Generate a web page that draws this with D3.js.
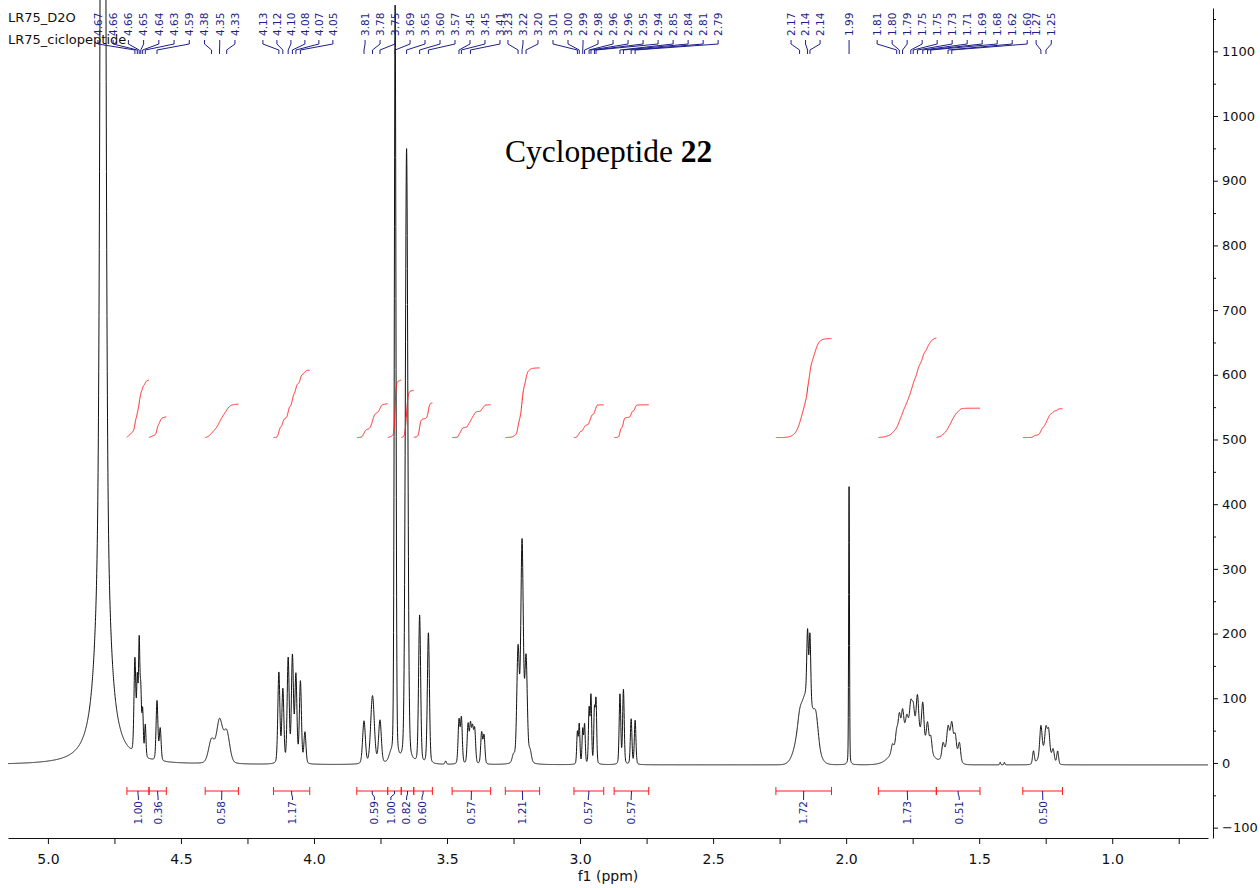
<!DOCTYPE html>
<html>
<head>
<meta charset="utf-8">
<script src="https://cdn.jsdelivr.net/npm/d3@7"></script>
<style>
    body { margin: 0; background: #fff; }
    svg { display: block; }
</style>
</head>
<body>
<svg id="chart"></svg>
<script>
// Axis ranges and ticks
const ppmRange = [5.15, 0.64];
const intensityRange = [-116, 1167];
const ppmTicks = [5.0, 4.5, 4.0, 3.5, 3.0, 2.5, 2.0, 1.5, 1.0];
const ppmMinorTicks = [4.75, 4.25, 3.75, 3.25, 2.75, 2.25, 1.75, 1.25, 0.75];
const intensityTicks = [-100, 0, 100, 200, 300, 400, 500, 600, 700, 800, 900, 1000, 1100];
const intensityMinorTicks = [-50, 50, 150, 250, 350, 450, 550, 650, 750, 850, 950, 1050, 1150];

const baseline = -3;

// Peaks: [ppm, height, half width (ppm), lorentzian fraction]
const peaksWater = [
    [4.793, 750, 0.0184, 1],
    [4.793, 2110, 0.0085, 0]
];
const peaks46 = [
    [4.673, 145, 0.004, 0.2], [4.664, 110, 0.003, 0.2], [4.657, 170, 0.003, 0.2],
    [4.651, 95, 0.003, 0.2], [4.644, 70, 0.003, 0.2], [4.634, 50, 0.003, 0.2],
    [4.590, 92, 0.004, 0.2], [4.578, 50, 0.004, 0.2],
    [4.385, 36, 0.013, 0.2], [4.355, 65, 0.013, 0.2], [4.328, 48, 0.013, 0.2]
];
const peaks41 = [
    [4.132, 140, 0.0045, 0.2], [4.117, 113, 0.0045, 0.2], [4.097, 161, 0.0045, 0.2],
    [4.081, 164, 0.0045, 0.2], [4.068, 135, 0.0045, 0.2], [4.051, 126, 0.0045, 0.2],
    [4.034, 48, 0.0045, 0.2]
];
const peaks37 = [
    [3.812, 66, 0.006, 0.2], [3.780, 105, 0.008, 0.2], [3.752, 66, 0.006, 0.2],
    [3.712, 10, 0.008, 0.2], [3.695, 1170, 0.0036, 0.2], [3.652, 950, 0.0055, 0.2],
    [3.603, 228, 0.0045, 0.2], [3.570, 202, 0.0045, 0.2], [3.505, 5, 0.003, 0.2]
];
const peaks34 = [
    [3.455, 67, 0.004, 0.2], [3.446, 70, 0.004, 0.2], [3.421, 60, 0.004, 0.2],
    [3.412, 58, 0.004, 0.2], [3.404, 52, 0.004, 0.2], [3.396, 52, 0.004, 0.2],
    [3.370, 48, 0.004, 0.2], [3.361, 44, 0.004, 0.2]
];
const peaks32 = [
    [3.250, 12, 0.006, 0.2], [3.233, 175, 0.0055, 0.2], [3.218, 340, 0.0055, 0.2],
    [3.203, 160, 0.0055, 0.2], [3.188, 18, 0.006, 0.2]
];
const peaks29 = [
    [3.010, 49, 0.003, 0.2], [3.003, 61, 0.003, 0.2], [2.990, 53, 0.003, 0.2],
    [2.983, 60, 0.003, 0.2], [2.966, 84, 0.003, 0.2], [2.959, 104, 0.003, 0.2],
    [2.946, 81, 0.003, 0.2], [2.940, 96, 0.003, 0.2],
    [2.850, 108, 0.0035, 0.2], [2.837, 115, 0.0035, 0.2], [2.808, 70, 0.0035, 0.2],
    [2.793, 68, 0.0035, 0.2]
];
const peaks21 = [
    [2.150, 108, 0.032, 0], [2.175, 14, 0.008, 0.2], [2.145, 100, 0.0035, 0.2],
    [2.136, 104, 0.0035, 0.2], [2.113, 38, 0.010, 0.2], [1.989, 430, 0.0018, 0.2]
];
const peaks17 = [
    [1.755, 62, 0.055, 0], [1.826, 12, 0.005, 0.2], [1.810, 22, 0.005, 0.2],
    [1.800, 38, 0.005, 0.2], [1.788, 36, 0.005, 0.2], [1.772, 18, 0.005, 0.2],
    [1.757, 34, 0.005, 0.2], [1.748, 30, 0.005, 0.2], [1.732, 52, 0.005, 0.2],
    [1.712, 55, 0.005, 0.2], [1.694, 38, 0.005, 0.2], [1.682, 25, 0.005, 0.2],
    [1.607, 38, 0.022, 0], [1.636, 20, 0.005, 0.2], [1.617, 26, 0.005, 0.2],
    [1.603, 28, 0.005, 0.2], [1.590, 22, 0.005, 0.2], [1.574, 26, 0.005, 0.2]
];
const peaks12 = [
    [1.421, 4, 0.002, 0.2], [1.405, 4, 0.002, 0.2], [1.252, 22, 0.022, 0],
    [1.296, 20, 0.004, 0.2], [1.268, 45, 0.005, 0.2], [1.249, 35, 0.005, 0.2],
    [1.239, 36, 0.005, 0.2], [1.222, 18, 0.005, 0.2], [1.205, 20, 0.004, 0.2]
];

// Peak picking labels
const peakLabelText = ['4.67', '4.66', '4.66', '4.65', '4.64', '4.63', '4.59', '4.38', '4.35', '4.33',
    '4.13', '4.12', '4.10', '4.08', '4.07', '4.05',
    '3.81', '3.78', '3.75', '3.69', '3.65', '3.60', '3.57', '3.45', '3.45', '3.41',
    '3.23', '3.22', '3.20', '3.01', '3.00', '2.99', '2.98', '2.96', '2.96', '2.95', '2.94',
    '2.85', '2.84', '2.81', '2.79',
    '2.17', '2.14', '2.14', '1.99',
    '1.81', '1.80', '1.79', '1.75', '1.75', '1.73', '1.71', '1.69', '1.68', '1.62', '1.60',
    '1.27', '1.25'];
const peakLabelPpm = [4.673, 4.664, 4.657, 4.651, 4.644, 4.634, 4.590, 4.385, 4.355, 4.328,
    4.132, 4.117, 4.097, 4.081, 4.068, 4.051,
    3.812, 3.780, 3.752, 3.695, 3.652, 3.603, 3.570, 3.455, 3.446, 3.412,
    3.233, 3.218, 3.203, 3.010, 3.003, 2.990, 2.983, 2.966, 2.959, 2.946, 2.940,
    2.850, 2.837, 2.808, 2.793,
    2.175, 2.145, 2.136, 1.989,
    1.810, 1.800, 1.788, 1.757, 1.748, 1.732, 1.712, 1.694, 1.682, 1.617, 1.603,
    1.268, 1.249];
// where each run of labels sits along the top (ppm span) and how many labels it holds
const labelGroupSpan = [[4.812, 4.297], [4.192, 3.929], [3.808, 3.301], [3.271, 2.481],
    [2.207, 2.098], [1.989, 1.989], [1.8835, 1.3195], [1.286, 1.229]];
const labelGroupSize = [10, 6, 10, 15, 3, 1, 11, 2];

// Integration regions
const intFrom = [4.703, 4.620, 4.409, 4.152, 3.839, 3.723, 3.672, 3.625, 3.481, 3.281, 3.023, 2.872, 2.264, 1.879, 1.661, 1.336];
const intTo = [4.620, 4.555, 4.284, 4.016, 3.723, 3.672, 3.625, 3.555, 3.336, 3.152, 2.911, 2.742, 2.055, 1.661, 1.497, 1.187];
const intText = ['1.00', '0.36', '0.58', '1.17', '0.59', '1.00', '0.82', '0.60', '0.57', '1.21', '0.57', '0.57', '1.72', '1.73', '0.51', '0.50'];
const intLabelPpm = [4.660, 4.586, 4.347, 4.081, 3.773, 3.711, 3.652, 3.594, 3.409, 3.216, 2.969, 2.808, 2.160, 1.769, 1.575, 1.261];
const integralBase = 503;
const integralPerUnit = 89;

const datasetNames = ['LR75_D2O', 'LR75_ciclopeptide'];

// Layout / style
let c = {
    svg: { width: 1260, height: 888 },
    plot: { left: 8, right: 1208, top: 8, bottom: 838 },
    yAxisX: 1213,
    color: { trace: '#111', label: '#1e1e8c', integral: '#ff1a1a' },
    font: "'DejaVu Sans', Verdana, sans-serif",
    serif: "'Liberation Serif', 'Times New Roman', serif",
    step: 0.0005
};

let scales = {};

/**
 * pseudo-Voigt line for one peak
 */
function lineShape(ppm, p) {
    let u = (ppm - p[0]) / p[2];
    return p[1] * (p[3] / (1 + u * u) + (1 - p[3]) * Math.exp(-Math.LN2 * u * u));
}

function drawChart() {
    let svg = d3.select('#chart')
        .attr('width', c.svg.width)
        .attr('height', c.svg.height)
        .style('font-family', c.font);

    scales.x = d3.scaleLinear().domain(ppmRange).range([c.plot.left, c.plot.right]);
    scales.y = d3.scaleLinear().domain(intensityRange).range([c.plot.bottom, c.plot.top]);

    let allPeaks = [].concat(peaksWater, peaks46, peaks41, peaks37, peaks34, peaks32, peaks29, peaks21, peaks17, peaks12);

    // sample the trace
    let grid = d3.range(ppmRange[0], ppmRange[1] - c.step / 2, -c.step);
    let trace = grid.map(ppm => {
        let v = baseline;
        for (let p of allPeaks) v += lineShape(ppm, p);
        return { ppm: ppm, v: v };
    });

    drawAxes(svg);

    // spectrum
    let line = d3.line().x(d => scales.x(d.ppm)).y(d => scales.y(d.v));
    svg.append('path')
        .datum(trace)
        .attr('d', line)
        .attr('fill', 'none')
        .attr('stroke', c.color.trace)
        .attr('stroke-width', 1);

    drawIntegrals(svg, trace);
    drawPeakLabels(svg);

    // dataset names
    svg.append('g').selectAll('text')
        .data(datasetNames)
        .join('text')
        .attr('x', 8)
        .attr('y', (d, i) => 22 + i * 22)
        .attr('font-size', 13)
        .attr('fill', '#111')
        .text(d => d);

    // title
    let title = svg.append('text')
        .attr('x', 505)
        .attr('y', 162)
        .attr('font-family', c.serif)
        .attr('font-size', 31.5)
        .attr('fill', '#000');
    title.append('tspan').text('Cyclopeptide ');
    title.append('tspan').attr('font-weight', 'bold').text('22');
}

function drawAxes(svg) {
    let xAxis = d3.axisBottom(scales.x)
        .tickValues(ppmTicks)
        .tickFormat(d3.format('.1f'))
        .tickSize(6)
        .tickPadding(10)
        .tickSizeOuter(0);
    let gx = svg.append('g')
        .attr('transform', translate(0, c.plot.bottom))
        .call(xAxis);
    gx.selectAll('text').attr('font-size', 14).attr('font-family', c.font).attr('fill', '#111');
    gx.select('.domain').attr('stroke', '#111');
    gx.selectAll('.tick line').attr('stroke', '#111');

    let xMinor = d3.axisBottom(scales.x)
        .tickValues(ppmMinorTicks)
        .tickFormat('')
        .tickSize(6)
        .tickSizeOuter(0);
    let gxm = svg.append('g')
        .attr('transform', translate(0, c.plot.bottom))
        .call(xMinor);
    gxm.select('.domain').remove();
    gxm.selectAll('.tick line').attr('stroke', '#111');

    svg.append('text')
        .attr('x', midpoint([scales.x(ppmRange[0]), scales.x(ppmRange[1])]))
        .attr('y', 881)
        .attr('text-anchor', 'middle')
        .attr('font-size', 14)
        .attr('fill', '#111')
        .text('f1 (ppm)');

    let yAxis = d3.axisRight(scales.y)
        .tickValues(intensityTicks)
        .tickFormat(d3.format('d'))
        .tickSize(5)
        .tickPadding(4)
        .tickSizeOuter(0);
    let gy = svg.append('g')
        .attr('transform', translate(c.yAxisX, 0))
        .call(yAxis);
    gy.selectAll('text').attr('font-size', 13).attr('font-family', c.font).attr('fill', '#111');
    gy.select('.domain').attr('stroke', '#111');
    gy.selectAll('.tick line').attr('stroke', '#111');

    let yMinor = d3.axisRight(scales.y)
        .tickValues(intensityMinorTicks)
        .tickFormat('')
        .tickSize(3);
    let gym = svg.append('g')
        .attr('transform', translate(c.yAxisX, 0))
        .call(yMinor);
    gym.select('.domain').remove();
    gym.selectAll('.tick line').attr('stroke', '#111');
}

/**
 * Integral curves, bars and values
 */
function drawIntegrals(svg, trace) {
    let g = svg.append('g').attr('id', 'integrals');
    let barY = 791;

    intFrom.forEach((from, i) => {
        let to = intTo[i];
        let seg = trace.filter(d => d.ppm <= from && d.ppm >= to);
        let sum = 0;
        let cum = seg.map(d => { sum += Math.max(0, d.v - baseline); return sum; });
        let rise = +intText[i] * integralPerUnit;
        let pts = seg.map((d, k) => ({ ppm: d.ppm, v: integralBase + rise * cum[k] / sum }));
        g.append('path')
            .datum(pts)
            .attr('d', d3.line().x(d => scales.x(d.ppm)).y(d => scales.y(d.v)))
            .attr('fill', 'none')
            .attr('stroke', c.color.integral)
            .attr('stroke-width', 1);

        // bar with end caps
        let x1 = scales.x(from), x2 = scales.x(to);
        g.append('path')
            .attr('d', `M${x1},${barY}H${x2}M${x1},${barY - 4}V${barY + 4}M${x2},${barY - 4}V${barY + 4}`)
            .attr('stroke', c.color.integral)
            .attr('stroke-width', 1)
            .attr('fill', 'none');

        let bx = midpoint([x1, x2]);
        let lx = scales.x(intLabelPpm[i]);
        g.append('path')
            .attr('d', `M${bx},${barY}V${barY + 3}L${lx},${barY + 6}V${barY + 9}`)
            .attr('stroke', c.color.label)
            .attr('fill', 'none');
        g.append('text')
            .attr('transform', translate(lx, barY + 10) + ' rotate(-90)')
            .attr('text-anchor', 'end')
            .attr('dy', '0.36em')
            .attr('font-size', 10.5)
            .attr('fill', c.color.label)
            .text(intText[i]);
    });
}

/**
 * Peak picking labels along the top with their leader lines
 */
function drawPeakLabels(svg) {
    let g = svg.append('g').attr('id', 'peak-labels');
    let idx = 0;
    labelGroupSpan.forEach((span, gi) => {
        let n = labelGroupSize[gi];
        let xa = scales.x(span[0]), xb = scales.x(span[1]);
        for (let k = 0; k < n; k++) {
            let lx = n === 1 ? xa : xa + (xb - xa) * k / (n - 1);
            let px = scales.x(peakLabelPpm[idx]);
            g.append('path')
                .attr('d', `M${lx},40V44L${px},50V54`)
                .attr('stroke', c.color.label)
                .attr('fill', 'none');
            g.append('text')
                .attr('transform', translate(lx, 36) + ' rotate(-90)')
                .attr('text-anchor', 'start')
                .attr('dy', '0.36em')
                .attr('font-size', 10.5)
                .attr('fill', c.color.label)
                .text(peakLabelText[idx]);
            idx++;
        }
    });
}

drawChart();

function translate(x, y) {
    return 'translate(' + x + ',' + y + ')';
}

function midpoint(range) {
    return range[0] + (range[1] - range[0]) / 2.0;
}
</script>
</body>
</html>
